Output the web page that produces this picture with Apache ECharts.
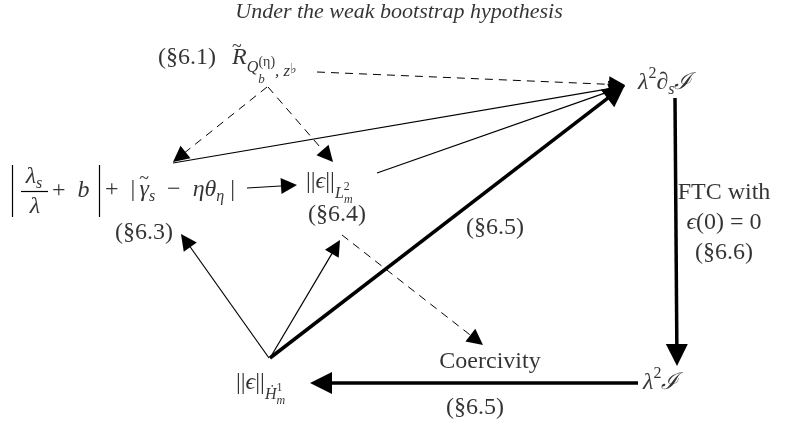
<!DOCTYPE html>
<html>
<head>
<meta charset="utf-8">
<script src="https://cdn.jsdelivr.net/npm/echarts@6/dist/echarts.min.js"></script>
<style>html,body{margin:0;padding:0;background:#fff}#m1{width:798px;height:424px}</style>
</head>
<body>
<div id="m1"></div>
<script>
// text of each node (rich markup) and where it sits in the picture
var nodeText=[
    '{ti|Under the weak bootstrap hypothesis}',
    '{r|(§6.1)  }{tl|~}{i|R}{q|Q}{qb|b}{qe|(η)}{qz|, z}{fl|♭}',
    '{i|λ}{sup|2}{i|∂}{sub|s}{cal|ℐ}',
    '{i|λ}{sub|s}',
    '{i|λ}',
    '{r|+  }{i|b}',
    '{r|+  |}{tl|~}{i|γ}{sub|s}{r|  −  }{i|ηθ}{sub|η}{r| |}',
    '{nm|||}{i|ϵ}{nm|||}{ns|L}{ss1|2}{ss2|m}',
    '{r|(§6.4)}',
    '{r|(§6.3)}',
    '{r|(§6.5)}',
    '{r|FTC with}\n{i|ϵ}{r|(0) = 0}\n{r|(§6.6)}',
    '{r|Coercivity}',
    '{nm|||}{i|ϵ}{nm|||}{ns|Ḣ}{ss1|1}{ss2|m}',
    '{i|λ}{sup|2}{cal|ℐ}',
    '{r|(§6.5)}'
];
var nodeX=[399,158,638,34,35,52,105,306,337,144,495,724,490,236,643,475];
var nodeY=[12,58,83,177,207,191,190,182,215,233,228,223,362,383,383,408];
var nodeAnchor=['center','left','left','center','center','left','left','left','center','center','center','center','center','left','left','center'];

// arrows: [from, to]
var dashedEdges=[[[317,72],[625,85]],[[267,87],[173,162]],[[268,87],[333,162]],[[342,235],[483,345]]];
var thinEdges=[[[173,163],[625,86]],[[377,173],[625,86]],[[247,188],[297,185]],[[269,358],[181,234]],[[270,358],[340,240]]];
var boldEdges=[[[270,358],[625,85]],[[675,98],[677,366]],[[638,383],[310,383]]];
// plain strokes of the formula (abs bars, fraction bar)
var rules=[[[12,165],[12,217]],[[99,165],[99,217]],[[21,191],[48,191]]];

var SERIF='Liberation Serif';
function st(size,italic,shift,w,fam,dx){
    var o={fontFamily:fam||SERIF,fontSize:size,fontStyle:italic?'italic':'normal',color:'#000',lineHeight:30};
    if(shift>0)o.padding=[2*shift,0,0,dx||0];
    else o.padding=[0,0,-2*shift,dx||0];
    if(w!=null)o.width=w;
    return o;
}
var rich={
    ti:st(22,true,0),
    r:st(24,false,0),
    nm:st(24,false,0),
    i:st(24,true,0),
    tl:st(18,false,-11,0.1,null,4),
    sub:st(16,true,7),
    sup:st(16,false,-9),
    cal:st(23,true,0,null,'DejaVu Serif'),
    ns:st(16,true,12),
    ss1:st(12,false,5,0.1),
    ss2:st(12,true,18),
    q:st(16,true,10),
    qb:st(13,true,22,0.1),
    qe:st(14,false,4),
    qz:st(17,true,14),
    fl:st(14,false,11,null,'DejaVu Sans')
};

// cut the line back by half the arrow so the tip lands on the end point
function trim(e,h){
    var a=e[0],b=e[1],dx=b[0]-a[0],dy=b[1]-a[1],l=Math.sqrt(dx*dx+dy*dy);
    return {coords:[a,[b[0]-dx/l*h/2,b[1]-dy/l*h/2]]};
}

var myChart=echarts.init(document.getElementById('m1'));
var option={
    animation:false,
    backgroundColor:'#fff',
    grid:{left:0,right:0,top:0,bottom:0},
    xAxis:{type:'value',min:0,max:798,show:false},
    yAxis:{type:'value',min:0,max:424,inverse:true,show:false},
    series:[
        {
        type:'lines',coordinateSystem:'cartesian2d',silent:true,
        symbol:['none','none'],
        lineStyle:{color:'#000',width:1.2,opacity:1},
        data:rules.map(function(e){return {coords:e};})
        },
        {
        type:'lines',coordinateSystem:'cartesian2d',silent:true,
        symbol:['none','triangle'],symbolSize:[11,16],
        lineStyle:{color:'#000',width:1,type:[8,6],opacity:1},
        data:dashedEdges.map(function(e){return trim(e,16);})
        },
        {
        type:'lines',coordinateSystem:'cartesian2d',silent:true,
        symbol:['none','triangle'],symbolSize:[11,16],
        lineStyle:{color:'#000',width:1.2,opacity:1},
        data:thinEdges.map(function(e){return trim(e,16);})
        },
        {
        type:'lines',coordinateSystem:'cartesian2d',silent:true,
        symbol:['none','triangle'],symbolSize:[17,22],
        lineStyle:{color:'#000',width:3.5,opacity:1},
        data:boldEdges.map(function(e){return trim(e,22);})
        },
        {
        type:'scatter',silent:true,symbolSize:0,
        itemStyle:{color:'rgba(0,0,0,0)'},
        label:{show:true,position:'inside',verticalAlign:'middle',color:'#000',
            formatter:function(p){return nodeText[p.dataIndex];},rich:rich},
        data:nodeText.map(function(t,k){
            return {value:[nodeX[k],nodeY[k]],label:{align:nodeAnchor[k]}};
        })
        }
    ]
};
myChart.setOption(option);
</script>
</body>
</html>
